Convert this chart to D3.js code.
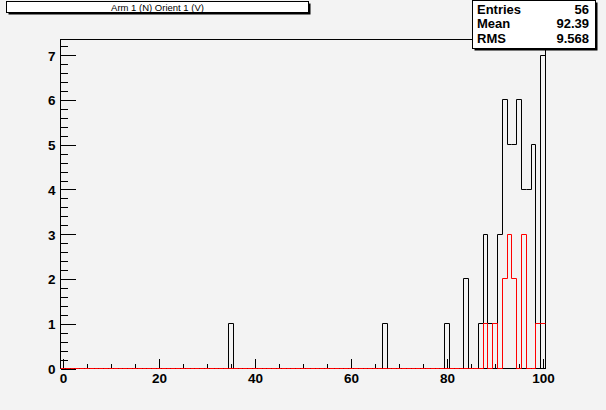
<!DOCTYPE html>
<html>
<head>
<meta charset="utf-8">
<script src="https://cdn.jsdelivr.net/npm/d3@7/dist/d3.min.js"></script>
<style>
  html, body { margin: 0; padding: 0; background: #f3f3f3; }
  svg { display: block; }
  text { font-family: "Liberation Sans", Arial, Helvetica, sans-serif; }
</style>
</head>
<body>
<svg id="c" width="606" height="410"></svg>
<script>
// ---- data ----
const title = "Arm 1 (N) Orient 1 (V)";
const blackX = [35, 67, 80, 84, 87, 88, 89, 90, 91, 92, 93, 94, 95, 96, 97, 98, 100];
const blackN = [1, 1, 1, 2, 1, 3, 1, 1, 3, 6, 5, 5, 6, 4, 4, 5, 7];
const redX = [88, 90, 92, 93, 94, 96, 99, 100];
const redN = [1, 1, 2, 3, 2, 3, 1, 1];
const xTicks = [0, 20, 40, 60, 80, 100];
const yTicks = [0, 1, 2, 3, 4, 5, 6, 7];
const statLabels = ["Entries", "Mean", "RMS"];
const statValues = ["56", "92.39", "9.568"];

const nBins = 101, xMin = -0.5, xMax = 100.5;
function fill(xs, ns) {
  const a = new Array(nBins).fill(0);
  xs.forEach((v, i) => { a[v] = ns[i]; });
  return a;
}
const blackBins = fill(blackX, blackN);
const redBins = fill(redX, redN);

const svg = d3.select("#c");
const bg = "#f3f3f3";
svg.append("rect").attr("width", 606).attr("height", 410).attr("fill", bg);

const L = 60.5, R = 545.5, T = 39.5, B = 368.5;
const x = d3.scaleLinear().domain([xMin, xMax]).range([L, R]);
const yMaxPlot = 7 * 1.05;
const y = d3.scaleLinear().domain([0, yMaxPlot]).range([B, T]);

const px = v => Math.round(x(v) - 0.5) + 0.5;
const py = v => Math.round(y(v) - 0.5) + 0.5;

// frame
svg.append("rect").attr("x", L).attr("y", T).attr("width", R - L).attr("height", B - T)
  .attr("fill", bg).attr("stroke", "#000").attr("stroke-width", 1);

function stepPath(bins) {
  let d = "M" + px(xMin) + "," + py(bins[0]);
  for (let i = 0; i < bins.length; i++) {
    const lo = xMin + i, hi = lo + 1;
    if (i > 0) d += "V" + py(bins[i]);
    d += "H" + px(hi);
  }
  return d;
}

svg.append("path").attr("d", stepPath(blackBins)).attr("fill", "none")
  .attr("stroke", "#000").attr("stroke-width", 1);

// axes
const fmt = d3.format("d");
const xMinor = d3.range(0, 101, 5).filter(v => xTicks.indexOf(v) < 0);
const yMinor = d3.range(1, 37).map(k => k * 0.2).filter(v => Math.abs(v - Math.round(v)) > 1e-6 && v < yMaxPlot);

const gx = svg.append("g").attr("transform", "translate(0," + B + ")");
gx.call(d3.axisBottom(x).tickValues(xTicks).tickSize(-10).tickPadding(5).tickFormat(fmt));
const gxm = svg.append("g").attr("transform", "translate(0," + B + ")");
gxm.call(d3.axisBottom(x).tickValues(xMinor).tickSize(-5).tickFormat(""));

const gy = svg.append("g").attr("transform", "translate(" + L + ",0)");
gy.call(d3.axisLeft(y).tickValues(yTicks).tickSize(-15).tickPadding(5).tickFormat(fmt));
const gym = svg.append("g").attr("transform", "translate(" + L + ",0)");
gym.call(d3.axisLeft(y).tickValues(yMinor).tickSize(-7).tickFormat(""));

svg.selectAll(".domain").remove();
svg.selectAll(".tick line").attr("stroke", "#000").attr("shape-rendering", "crispEdges");
svg.selectAll(".tick text").attr("font-size", 13.5).attr("font-weight", "bold").attr("fill", "#000")
  .attr("font-family", "Liberation Sans, Arial, sans-serif");
gy.selectAll(".tick text").attr("dy", "0.36em");

// red histogram (drawn "same", on top)
svg.append("path").attr("d", stepPath(redBins)).attr("fill", "none")
  .attr("stroke", "#ff0000").attr("stroke-width", 1);

// title box
const tb = { x0: 6.5, y0: 1.5, x1: 308.5, y1: 12.5 };
svg.append("rect").attr("x", tb.x0 + 2).attr("y", tb.y0 + 2).attr("width", tb.x1 - tb.x0).attr("height", tb.y1 - tb.y0).attr("fill", "#000");
svg.append("rect").attr("x", tb.x0).attr("y", tb.y0).attr("width", tb.x1 - tb.x0).attr("height", tb.y1 - tb.y0)
  .attr("fill", "#fff").attr("stroke", "#000");
svg.append("text").attr("x", (tb.x0 + tb.x1) / 2).attr("y", 10.5).attr("text-anchor", "middle")
  .attr("font-size", 9.5).attr("fill", "#000").text(title);

// stats box
const sb = { x0: 472.5, y0: 0.5, x1: 595.5, y1: 48.5 };
svg.append("rect").attr("x", sb.x0 + 2).attr("y", sb.y0 + 2).attr("width", sb.x1 - sb.x0).attr("height", sb.y1 - sb.y0).attr("fill", "#000");
svg.append("rect").attr("x", sb.x0).attr("y", sb.y0).attr("width", sb.x1 - sb.x0).attr("height", sb.y1 - sb.y0)
  .attr("fill", "#fff").attr("stroke", "#000");
const rowY = [13.5, 28, 42.5];
statLabels.forEach((s, i) => {
  svg.append("text").attr("x", 477).attr("y", rowY[i]).attr("font-size", 13).attr("font-weight", "bold")
    .attr("fill", "#000").text(s);
  svg.append("text").attr("x", 589).attr("y", rowY[i]).attr("text-anchor", "end").attr("font-size", 13)
    .attr("font-weight", "bold").attr("fill", "#000").text(statValues[i]);
});
</script>
</body>
</html>
